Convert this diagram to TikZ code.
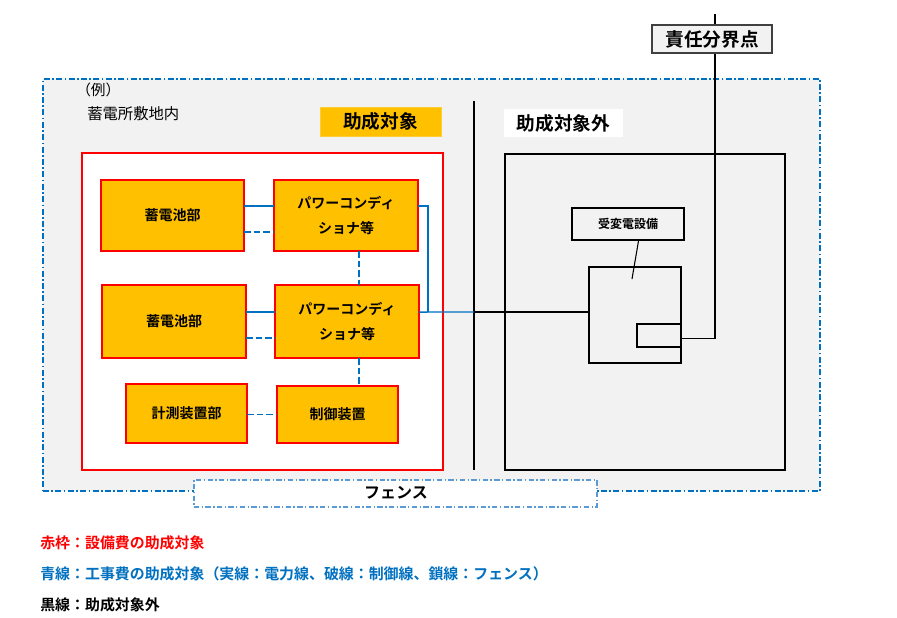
\documentclass[tikz,border=0pt]{standalone}
\usepackage{fontspec}
\setmainfont{Noto Sans CJK JP}[BoldFont={Noto Sans CJK JP Bold}]
\usetikzlibrary{fit}
\definecolor{myblue}{HTML}{0070C0}
\definecolor{fenceblue}{HTML}{5B9BD5}
\definecolor{orangefill}{HTML}{FFC000}
\definecolor{bggray}{HTML}{F2F2F2}
\begin{document}
\begin{tikzpicture}[x=0.75pt,y=-0.75pt,
  fitbox/.style={inner sep=0pt, outer sep=0pt},
  unitbox/.style={fitbox, draw=red, line width=1.5pt, fill=orangefill},
  unittext/.style={inner sep=0pt, align=center, font=\fontsize{10.5}{19}\selectfont\bfseries},
  headtext/.style={inner sep=0pt, font=\fontsize{14}{16}\selectfont\bfseries},
  pw/.style={draw=myblue, line width=1.1pt},
  ctl/.style={pw, dash pattern=on 5pt off 2.2pt},
  blk/.style={draw=black, line width=1.5pt},
  thinblk/.style={draw=black, line width=0.9pt},
  outerfence/.style={draw=myblue, line width=1.2pt, dash pattern=on 4.5pt off 1.8pt on 1.2pt off 1.8pt},
  labelfence/.style={draw=fenceblue, line width=0.8pt, dash pattern=on 4pt off 1.8pt on 1pt off 1.8pt},
  legend/.style={anchor=west, inner sep=0pt, font=\fontsize{11.2}{13}\selectfont\bfseries}
]
\useasboundingbox (0,0) rectangle (897,618);
\fill[white] (0,0) rectangle (897,618);

% site area (fence)
\node[fitbox, outerfence, fill=bggray, fit={(43,79) (820,491)}] (site) {};
\node[anchor=west, inner sep=0pt, font=\fontsize{11}{13}\selectfont] (rei) at (76,90) {（例）};
\node[anchor=west, inner sep=0pt, font=\fontsize{11.5}{13}\selectfont] (sitename) at (87,114) {蓄電所敷地内};

% headings
\node[fitbox, fill=orangefill, draw=orangefill!80!white, line width=0.6pt, fit={(320,107) (441,136)}] (taisho) {};
\node[headtext] (taishot) at (taisho.center) {助成対象};
\node[fitbox, fill=white, fit={(504,109) (623,137)}] (taishogai) {};
\node[headtext] (taishogait) at (taishogai.center) {助成対象外};

% divider
\coordinate (dtop) at (474,101);
\coordinate (dbot) at (474,470);
\draw[thinblk] (dtop) -- (dbot);

% red frame
\node[fitbox, draw=red, line width=1.3pt, fill=white, fit={(82,153) (443,470)}] (redframe) {};

% units
\node[unitbox, fit={(101,180) (244,251)}] (bat1) {};
\node[unitbox, fit={(274,180) (418,251)}] (pcs1) {};
\node[unitbox, fit={(102,285) (246,358)}] (bat2) {};
\node[unitbox, fit={(275,285) (419,358)}] (pcs2) {};
\node[unitbox, fit={(126,384) (247,443)}] (meas) {};
\node[unitbox, fit={(277,386) (398,443)}] (ctrl) {};
\node[unittext] (bat1t) at (bat1.center) {蓄電池部};
\node[unittext] (pcs1t) at (pcs1.center) {パワーコンディ\\ショナ等};
\node[unittext] (bat2t) at (bat2.center) {蓄電池部};
\node[unittext] (pcs2t) at (pcs2.center) {パワーコンディ\\ショナ等};
\node[unittext] (meast) at (meas.center) {計測装置部};
\node[unittext] (ctrlt) at (ctrl.center) {制御装置};

% blue connectors
\draw[pw] ([yshift=7pt]bat1.east) -- ([yshift=7pt]pcs1.west);
\draw[ctl] ([yshift=-12.5pt]bat1.east) -- ([yshift=-12.5pt]pcs1.west);
\draw[pw] ([yshift=7pt]bat2.east) -- ([yshift=7pt]pcs2.west);
\draw[ctl] ([yshift=-12.5pt]bat2.east) -- ([yshift=-12.5pt]pcs2.west);
\coordinate (vx) at ([xshift=9pt]pcs2.south);
\draw[ctl] (pcs1.south -| vx) -- (pcs2.north -| vx);
\draw[ctl] (vx) -- (ctrl.north -| vx);
\draw[ctl] (meas.east |- ctrl.west) -- (ctrl.west);
\coordinate (junc) at (428,312);
\coordinate (dmid) at (474,312);
\draw[pw] ([yshift=7pt]pcs1.east) -| (junc);
\draw[pw] ([yshift=7pt]pcs2.east) -- (junc) -- (dmid);

% out-of-scope area
\node[fitbox, blk, fit={(505,154) (785,470)}] (outbox) {};
\node[fitbox, draw=black, fill=bggray, fit={(589,267) (681,363)}, line width=1.5pt] (trans) {};
\node[fitbox, draw=black, line width=1pt, fit={(637,324) (681,347)}] (sbox) {};
\node[fitbox, draw=black, line width=0.9pt, fill=bggray, fit={(572,208) (684,240)}] (jhd) {};
\node[inner sep=0pt, font=\fontsize{9}{11}\selectfont\bfseries] (jhdt) at (jhd.center) {受変電設備};
\coordinate (leadend) at (632,279);
\draw[draw=black, line width=0.8pt] ([xshift=8pt]jhd.south) -- (leadend);
\draw[blk] (dmid) -- (trans.west |- dmid);

% boundary line
\coordinate (topend) at (715,14);
\draw[draw=black, line width=0.9pt] ([yshift=-2pt]sbox.east) -| (topend);
\node[fitbox, draw=black!75, line width=1pt, fill=bggray, fit={(652,25) (772,53)}] (bunkai) {};
\node[headtext] (bunkait) at (bunkai.center) {責任分界点};

% fence label
\node[fitbox, labelfence, fill=white, fit={(194,480) (597,507)}] (fencebox) {};
\node[inner sep=0pt, font=\fontsize{12}{14}\selectfont\bfseries] (fencetxt) at (396,493) {フェンス};

% legend
\node[legend, text=red] (leg1) at (40,543) {赤枠：設備費の助成対象};
\node[legend, text=myblue] (leg2) at (40,574) {青線：工事費の助成対象（実線：電力線、破線：制御線、鎖線：フェンス）};
\node[legend, text=black] (leg3) at (40,605) {黒線：助成対象外};
\end{tikzpicture}
\end{document}
